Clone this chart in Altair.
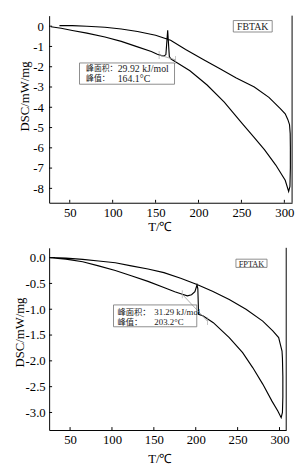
import altair as alt
import pandas as pd

SERIF = "Liberation Serif, Times New Roman, serif"
MIXED = "Liberation Serif, Noto Sans CJK SC"

# ---------------- data ----------------
x_ticks = [50, 100, 150, 200, 250, 300]

# FBTAK DSC loop (heating branch, then return branch)
fb_T = [28, 40, 53, 70, 91, 110, 129, 145, 152, 157, 160, 162, 163.4, 164.1, 164.8,
        166, 168, 175, 190, 210, 230, 251, 264, 277, 290, 301, 305, 306.5, 307, 307,
        306.8, 306, 304, 301, 295, 282, 265, 244, 225, 206, 185, 167.5, 150, 129,
        110, 91, 70, 53, 38]
fb_dsc = [-0.03, -0.1, -0.21, -0.34, -0.53, -0.75, -1.02, -1.25, -1.38, -1.45, -1.47,
          -1.40, -0.6, -0.2, -0.7, -1.5, -1.62, -1.8, -2.2, -2.9, -3.75, -4.81, -5.45,
          -6.1, -6.85, -7.6, -8.15, -7.9, -7.0, -6.0, -5.3, -4.85, -4.6, -4.32, -4.05,
          -3.51, -3.0, -2.55, -2.1, -1.66, -1.15, -0.69, -0.45, -0.26, -0.14, -0.05,
          0.0, 0.03, 0.03]
fb_base_T = [154.1, 173.2]
fb_base_dsc = [-1.42, -1.66]
fb_y_ticks = [0, -1, -2, -3, -4, -5, -6, -7, -8]

# FPTAK DSC loop
fp_T = [26, 45, 65, 84, 104, 123, 143, 162, 175, 184, 190, 195, 199, 201.5, 202.5,
        203.4, 209, 221, 240, 256, 268, 280, 291, 298, 302, 303.5, 304, 304,
        303.5, 303, 301, 299, 292, 280, 260, 240, 220, 201.5, 182, 162, 143, 123,
        104, 84, 65, 45, 28]
fp_dsc = [0.0, -0.03, -0.08, -0.16, -0.25, -0.35, -0.46, -0.58, -0.66, -0.71, -0.74,
          -0.72, -0.66, -0.53, -0.6, -1.1, -1.13, -1.26, -1.55, -1.84, -2.13,
          -2.45, -2.78, -2.97, -3.1, -3.0, -2.7, -2.3, -1.95, -1.81, -1.68, -1.55,
          -1.42, -1.23, -1.0, -0.81, -0.65, -0.52, -0.4, -0.29, -0.22, -0.16, -0.1,
          -0.065, -0.035, -0.01, 0.0]
fp_base_T = [183.9, 214.0]
fp_base_dsc = [-0.71, -1.23]
fp_y_ticks = [0.0, -0.5, -1.0, -1.5, -2.0, -2.5, -3.0]

fb_texts = ["峰面积：", "峰值：", "29.92 kJ/mol", "164.1°C"]
fp_texts = ["峰面积：", "峰值：", "31.29 kJ/mol", "203.2°C"]


def panel(T, D, bT, bD, xdom, ydom, yticks, yfmt, W, H, name, texts, g):
    curve_df = pd.DataFrame({"T": T, "DSC": D, "i": range(len(T))})
    base_df = pd.DataFrame({"T": bT, "DSC": bD})
    xs = alt.Scale(domain=xdom, nice=False, zero=False)
    ys = alt.Scale(domain=ydom, nice=False, zero=False)
    x_enc = alt.X("T:Q", scale=xs, axis=alt.Axis(
        values=x_ticks, title="T/℃", titleFont=SERIF, titleFontSize=13,
        titleFontWeight="normal", titleColor="black", labelFont=SERIF,
        labelFontSize=13, labelColor="black", ticks=False, grid=False,
        domainColor="black", labelPadding=4, titlePadding=g["xtp"], titleX=113,
        labelFlush=False))
    y_enc = alt.Y("DSC:Q", scale=ys, axis=alt.Axis(
        values=yticks, title="DSC/mW/mg", titleFont=SERIF, titleFontSize=13,
        titleFontWeight="normal", titleColor="black", labelFont=SERIF,
        labelFontSize=13, labelColor="black", ticks=False, grid=False,
        domainColor="black", labelPadding=g["lp"], titlePadding=g["tp"],
        titleY=g["ty"], labelFlush=False,
        labelExpr="replace(format(datum.value, '%s'), '\u2212', '-')" % yfmt))

    curve = alt.Chart(curve_df).mark_line(color="black", strokeWidth=1.15).encode(
        x=x_enc, y=y_enc, order="i:Q")
    base = alt.Chart(base_df).mark_line(color="#999999", strokeWidth=0.8).encode(
        x=x_enc, y=y_enc)
    base_ends = alt.Chart(base_df).mark_tick(
        color="#999999", orient="vertical", size=8, thickness=0.8).encode(
        x=x_enc, y=y_enc)

    xt = alt.Chart(pd.DataFrame({"T": x_ticks})).mark_rule(color="black").encode(
        x=x_enc, y=alt.value(H), y2=alt.value(H - 3))
    yt = alt.Chart(pd.DataFrame({"DSC": yticks})).mark_rule(color="black").encode(
        y=y_enc, x=alt.value(0), x2=alt.value(3))

    one = pd.DataFrame({"a": [0]})
    right = alt.Chart(one).mark_rule(color="black").encode(
        x=alt.value(W), y=alt.value(0), y2=alt.value(H))

    bx = g["box"]
    box = alt.Chart(one).mark_rect(fillOpacity=0, stroke="#808080", strokeWidth=0.9).encode(
        x=alt.value(bx[0]), x2=alt.value(bx[1]), y=alt.value(bx[2]), y2=alt.value(bx[3]))

    def txt(s, fs, x, y):
        return alt.Chart(one).mark_text(text=s, font=MIXED, fontSize=fs, align="left",
                                        baseline="middle", color="#222").encode(
            x=alt.value(x), y=alt.value(y))

    t1 = txt(texts[0], g["cfs"], g["lx"], g["r1"])
    t2 = txt(texts[1], g["cfs"], g["lx"], g["r2"])
    t3 = txt(texts[2], g["fs"], g["vx"], g["r1"])
    t4 = txt(texts[3], g["fs"], g["vx"], g["r2"])

    nb = g["nbox"]
    nbox = alt.Chart(one).mark_rect(fillOpacity=0, stroke="#808080", strokeWidth=0.9).encode(
        x=alt.value(nb[0]), x2=alt.value(nb[1]), y=alt.value(nb[2]), y2=alt.value(nb[3]))
    ntext = alt.Chart(one).mark_text(text=name, font=SERIF, fontSize=g["nfs"],
                                     align="center", baseline="middle", color="#222").encode(
        x=alt.value((nb[0] + nb[1]) / 2), y=alt.value((nb[2] + nb[3]) / 2 + 0.5))

    return alt.layer(curve, base, base_ends, xt, yt, right, box, t1, t2, t3, t4,
                     nbox, ntext).properties(width=W, height=H)


top = panel(fb_T, fb_dsc, fb_base_T, fb_base_dsc, [26, 309], [-8.71, 0.52],
            fb_y_ticks, "d", 248, 191, "FBTAK", fb_texts,
            dict(lp=6, tp=1, ty=82, xtp=1, box=(31, 128, 48.3, 70), lx=37.7, vx=70,
                 r1=55, r2=65, fs=10, cfs=8, nbox=(188, 227.7, 5, 16.7), nfs=10))
bottom = panel(fp_T, fp_dsc, fp_base_T, fp_base_dsc, [25, 308], [-3.34, 0.19],
               fp_y_ticks, ".1f", 242, 186, "FPTAK", fp_texts,
               dict(lp=4, tp=-1, ty=86, xtp=6, box=(65.7, 150.7, 58.3, 80.6), lx=69.7,
                    vx=107.4, r1=65.6, r2=75.6, fs=9, cfs=8.5,
                    nbox=(190.7, 222.4, 11.6, 20), nfs=8.5))

chart = alt.concat(top, bottom, columns=1, spacing=14, align="none").properties(
    padding={"left": 5, "top": 2, "right": 2, "bottom": 0}
).configure_view(stroke=None)

chart.save("out.html", embed_options={"renderer": "svg", "actions": False})
